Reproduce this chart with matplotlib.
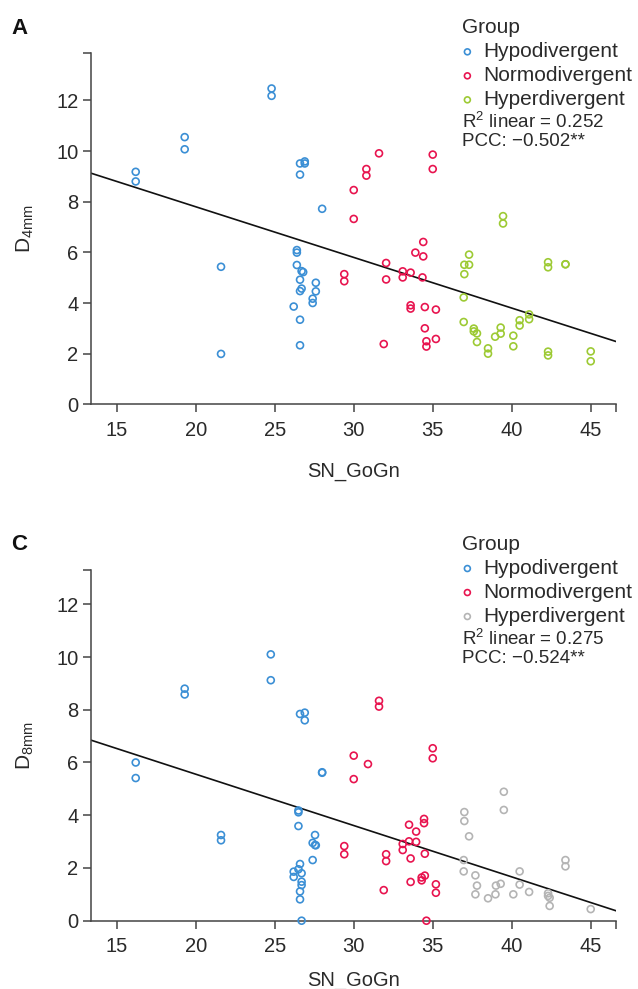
import numpy as np
import matplotlib

matplotlib.use("Agg")
import matplotlib.pyplot as plt
from matplotlib.ticker import FixedLocator

plt.rcParams["font.family"] = ["Liberation Sans", "DejaVu Sans"]
plt.rcParams["mathtext.fontset"] = "custom"
plt.rcParams["mathtext.rm"] = "Liberation Sans"
plt.rcParams["mathtext.default"] = "regular"

groups = ["Hypodivergent", "Normodivergent", "Hyperdivergent"]

# panel A : D4mm vs SN_GoGn
hypo_a_x = [24.8, 24.8, 19.3, 19.3, 16.2, 16.2, 26.6, 26.9, 26.9, 26.6, 28.0, 26.4, 26.4, 21.6,
            26.4, 26.7, 26.8, 26.6, 27.6, 26.7, 26.6, 27.6, 27.4, 27.4, 26.2, 26.6, 26.6, 21.6]
hypo_a_y = [12.47, 12.18, 10.55, 10.07, 9.18, 8.80, 9.51, 9.59, 9.51, 9.07, 7.72, 6.09, 5.99, 5.43,
            5.50, 5.26, 5.22, 4.92, 4.80, 4.57, 4.47, 4.46, 4.17, 4.00, 3.86, 3.34, 2.33, 1.99]
normo_a_x = [29.4, 29.4, 31.6, 35.0, 35.0, 30.8, 30.8, 30.0, 30.0, 34.4, 33.9, 34.4, 32.05, 33.1,
             33.1, 33.6, 34.35, 32.05, 33.6, 33.6, 34.5, 35.2, 34.5, 35.2, 31.9, 34.6, 34.6]
normo_a_y = [5.14, 4.86, 9.91, 9.86, 9.29, 9.29, 9.03, 8.46, 7.32, 6.41, 5.99, 5.84, 5.58, 5.25,
             5.01, 5.20, 5.01, 4.93, 3.91, 3.78, 3.84, 3.74, 3.00, 2.58, 2.38, 2.49, 2.28]
hyper_a_x = [39.45, 39.45, 37.3, 37.0, 37.3, 37.0, 42.3, 42.3, 43.4, 43.4, 36.96, 36.96, 41.1, 41.1,
             40.5, 40.5, 37.6, 37.6, 37.8, 37.8, 39.3, 39.3, 38.95, 40.1, 40.1, 38.5, 38.5, 42.3,
             42.3, 45.0, 45.0]
hyper_a_y = [7.43, 7.14, 5.91, 5.51, 5.51, 5.14, 5.61, 5.41, 5.53, 5.53, 4.22, 3.25, 3.55, 3.36,
             3.32, 3.11, 2.99, 2.88, 2.80, 2.46, 3.03, 2.79, 2.67, 2.71, 2.29, 2.21, 2.00, 2.08,
             1.93, 2.09, 1.70]
fit_a = (11.8, -0.200)
stats_a = ("0.252", "\u22120.502**")

# panel C : D8mm vs SN_GoGn
hypo_c_x = [24.75, 24.75, 19.3, 19.3, 26.6, 26.9, 26.9, 16.2, 16.2, 28.0, 28.0, 26.5, 26.5, 26.5,
            21.6, 21.6, 27.55, 27.4, 27.55, 27.6, 27.4, 26.6, 26.2, 26.5, 26.2, 26.7, 26.7, 26.7,
            26.6, 26.6, 26.7]
hypo_c_y = [10.10, 9.12, 8.80, 8.58, 7.84, 7.89, 7.60, 6.00, 5.41, 5.63, 5.61, 4.18, 4.11, 3.59,
            3.25, 3.05, 3.25, 2.95, 2.87, 2.86, 2.30, 2.15, 1.86, 1.95, 1.66, 1.80, 1.48, 1.35,
            1.11, 0.81, 0.0]
normo_c_x = [31.6, 31.6, 35.0, 35.0, 30.0, 30.9, 30.0, 34.45, 34.45, 33.5, 33.95, 33.5, 33.95, 33.1,
             33.1, 29.4, 29.4, 32.05, 32.05, 33.6, 34.5, 33.6, 34.3, 34.3, 34.5, 35.2, 35.2, 31.9,
             34.6]
normo_c_y = [8.34, 8.12, 6.54, 6.16, 6.26, 5.94, 5.37, 3.86, 3.70, 3.64, 3.38, 3.01, 2.99, 2.91,
             2.68, 2.83, 2.52, 2.52, 2.26, 2.36, 2.54, 1.47, 1.64, 1.53, 1.71, 1.38, 1.06, 1.16,
             0.0]
hyper_c_x = [39.5, 39.5, 37.0, 37.0, 37.3, 36.96, 36.96, 37.7, 37.8, 37.7, 38.5, 38.97, 39.0, 39.3,
             40.1, 40.5, 40.5, 41.1, 42.3, 42.3, 42.4, 42.4, 43.4, 43.4, 45.0]
hyper_c_y = [4.89, 4.20, 4.12, 3.78, 3.20, 2.30, 1.87, 1.72, 1.33, 1.00, 0.85, 1.00, 1.33, 1.40,
             1.00, 1.87, 1.37, 1.09, 1.04, 0.94, 0.87, 0.56, 2.30, 2.06, 0.44]
fit_c = (9.45, -0.1947)
stats_c = ("0.275", "\u22120.524**")

x_ticks = [15, 20, 25, 30, 35, 40, 45]
y_ticks = [0, 2, 4, 6, 8, 10, 12]
xlim = (13.37, 46.6)

BLUE = "#3b8fd5"
RED = "#e8144f"
GREEN = "#9dca34"
GRAY = "#b4b4b4"
INK = "#2a2a2a"
SPINE = "#444444"

W, H = 638, 989
fig = plt.figure(figsize=(W / 100, H / 100), dpi=100)


def panel(rect, letter, ylab, ytop, series, third_color, fit, stats, xlab_y):
    ax = fig.add_axes(rect)
    ax_h = rect[3] * H
    handles = []
    for (xs, ys), color, name in zip(series, [BLUE, RED, third_color], groups):
        h = ax.scatter(xs, ys, s=25, facecolors="none", edgecolors=color,
                       linewidths=1.2, clip_on=False, zorder=3, label=name)
        handles.append(h)
    xx = np.array(xlim)
    ax.plot(xx, fit[0] + fit[1] * xx, color="#111111", lw=1.2, zorder=2)

    ax.set_xlim(*xlim)
    ax.set_ylim(0, ytop)
    for side in ["top", "right"]:
        ax.spines[side].set_visible(False)
    for side in ["left", "bottom"]:
        ax.spines[side].set_color(SPINE)
        ax.spines[side].set_linewidth(1.1)
    ax.xaxis.set_major_locator(FixedLocator(x_ticks))
    ax.yaxis.set_major_locator(FixedLocator(y_ticks))
    ax.xaxis.set_minor_locator(FixedLocator([xlim[1]]))
    ax.yaxis.set_minor_locator(FixedLocator([ytop]))
    ax.tick_params(which="both", direction="out", length=6, width=1.1, color=SPINE,
                   labelsize=14.5, labelcolor=INK)
    ax.tick_params(axis="x", pad=6)
    ax.tick_params(axis="y", pad=3)

    ax.set_xlabel("SN_GoGn", fontsize=14.5, color=INK)
    ax.xaxis.set_label_coords(0.5, xlab_y)
    ax.set_ylabel(ylab, fontsize=15, color=INK)
    ax.yaxis.set_label_coords(-0.105, 0.5)

    fig.text(0.018, rect[1] + rect[3] + 25 / H, letter, fontsize=16, fontweight="bold",
             color="#111111", va="center", ha="left")

    def fy(dy):
        return 1 - dy / ax_h

    leg = ax.legend(handles=handles, title="Group", loc="upper left",
                    bbox_to_anchor=(0.707, fy(-35)), frameon=False, fontsize=15,
                    title_fontsize=15, borderpad=0, borderaxespad=0, handlelength=0.5,
                    handletextpad=0.5, labelspacing=0.24, markerscale=0.85,
                    alignment="left")
    for t in leg.get_texts():
        t.set_color(INK)
    leg.get_title().set_color(INK)
    ax.text(0.707, fy(68.5), r"R$^{2}$ linear = " + stats[0], transform=ax.transAxes,
            fontsize=13.5, color=INK, va="center", ha="left")
    ax.text(0.707, fy(88.5), "PCC: " + stats[1], transform=ax.transAxes,
            fontsize=13.5, color=INK, va="center", ha="left")
    return ax


ax_a = panel([91 / W, 1 - 404.3 / H, 525 / W, 351 / H], "A", r"D$_{4mm}$", 13.86,
             [(hypo_a_x, hypo_a_y), (normo_a_x, normo_a_y), (hyper_a_x, hyper_a_y)],
             GREEN, fit_a, stats_a, -0.165)
ax_c = panel([91 / W, 1 - 920.7 / H, 525 / W, 350.7 / H], "C", r"D$_{8mm}$", 13.3,
             [(hypo_c_x, hypo_c_y), (normo_c_x, normo_c_y), (hyper_c_x, hyper_c_y)],
             GRAY, fit_c, stats_c, -0.143)

fig.savefig("out.png", dpi=100, facecolor="white")
